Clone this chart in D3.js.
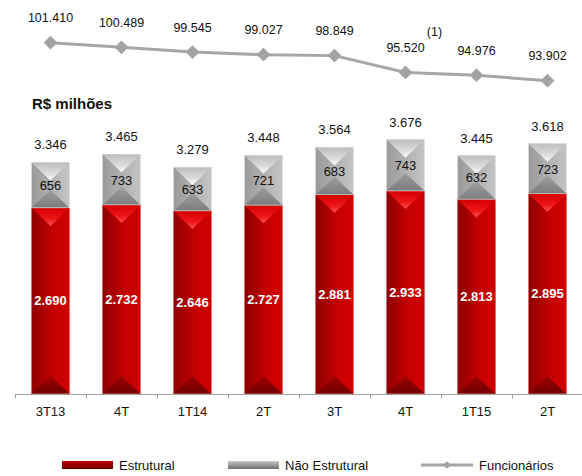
<!DOCTYPE html>
<html><head><meta charset="utf-8">
<script src="https://cdn.jsdelivr.net/npm/d3@7"></script>
<style>body{margin:0;background:#fff}svg{display:block;font-family:"Liberation Sans",Arial,sans-serif}</style>
</head><body>
<svg id="c" width="582" height="476"></svg>
<script>
const categories = ["3T13","4T","1T14","2T","3T","4T","1T15","2T"];
const estrutural = [2690,2732,2646,2727,2881,2933,2813,2895];
const naoEstrutural = [656,733,633,721,683,743,632,723];
const totals = [3346,3465,3279,3448,3564,3676,3445,3618];
const funcionarios = [101.410,100.489,99.545,99.027,98.849,95.520,94.976,93.902];
const funcLabels = ["101.410","100.489","99.545","99.027","98.849","95.520","94.976","93.902"];
const fmt = v => d3.format(",")(v).replace(/,/g,".");

const svg = d3.select("#c");
const x = d3.scaleBand().domain(d3.range(categories.length)).range([15,583]).paddingInner(0.465).paddingOuter(0.2325);
const y = d3.scaleLinear().domain([0,5000]).range([394,48]);
const yl = d3.scaleLinear().domain([90,105]).range([100.4,24.5]);

const defs = svg.append("defs");
function lg(id, x1,y1,x2,y2, stops){
  const g = defs.append("linearGradient").attr("id",id).attr("x1",x1).attr("y1",y1).attr("x2",x2).attr("y2",y2);
  stops.forEach(s=>g.append("stop").attr("offset",s[0]).attr("stop-color",s[1]));
}
lg("redSide",0,0,1,0,[[0,"#8e0000"],[0.45,"#b80000"],[0.55,"#c40000"],[1,"#d00000"]]);
lg("redTop",0,0,0,1,[[0,"#d40000"],[0.6,"#ee1515"],[1,"#ff5050"]]);
lg("redBot",0,1,0,0,[[0,"#6e0000"],[1,"#a00000"]]);
lg("graySide",0,0,1,0,[[0,"#9a9a9a"],[0.5,"#b0b0b0"],[1,"#c4c4c4"]]);
lg("grayTop",0,0,0,1,[[0,"#bcbcbc"],[0.6,"#dcdcdc"],[1,"#ffffff"]]);
lg("grayBot",0,1,0,0,[[0,"#7c7c7c"],[1,"#9e9e9e"]]);
lg("redLeg",0,0,0,1,[[0,"#c00000"],[1,"#6a0000"]]);
lg("grayLeg",0,0,0,1,[[0,"#c8c8c8"],[1,"#6e6e6e"]]);

function segment(g, x0, w, top, bottom, kind){
  const xc = x0 + w/2, h = bottom - top;
  const th = Math.min(w/2*0.95, h/2);
  g.append("rect").attr("x",x0).attr("y",top).attr("width",w).attr("height",h)
    .attr("fill",`url(#${kind}Side)`);
  g.append("polygon").attr("points",`${x0},${top} ${x0+w},${top} ${xc},${top+th}`)
    .attr("fill",`url(#${kind}Top)`);
  g.append("polygon").attr("points",`${x0},${bottom} ${x0+w},${bottom} ${xc},${bottom-th}`)
    .attr("fill",`url(#${kind}Bot)`);
  g.append("rect").attr("x",x0+0.25).attr("y",top+0.25).attr("width",w-0.5).attr("height",h-0.5)
    .attr("fill","none").attr("stroke", kind==="red" ? "#e06060" : "#dedede").attr("stroke-width",0.5);
}

const bars = svg.append("g");
categories.forEach((c,i)=>{
  const x0 = x(i), w = x.bandwidth();
  const g = bars.append("g");
  segment(g, x0, w, y(estrutural[i]), y(0), "red");
  segment(g, x0, w, y(estrutural[i]+naoEstrutural[i]), y(estrutural[i]), "gray");
  const xc = x0 + w/2;
  g.append("text").attr("x",xc).attr("y",(y(estrutural[i])+y(0))/2+4.5).attr("text-anchor","middle")
    .attr("font-size","13px").attr("font-weight","bold").attr("fill","#fff").text(fmt(estrutural[i]));
  g.append("text").attr("x",xc).attr("y",(y(estrutural[i]+naoEstrutural[i])+y(estrutural[i]))/2+5).attr("text-anchor","middle")
    .attr("font-size","13px").attr("fill","#111").text(naoEstrutural[i]);
  g.append("text").attr("x",xc).attr("y",y(totals[i])-13).attr("text-anchor","middle")
    .attr("font-size","13px").attr("fill","#111").text(fmt(totals[i]));
});

// axis
const axisG = svg.append("g");
axisG.append("line").attr("x1",x.range()[0]).attr("x2",x.range()[1]).attr("y1",394.5).attr("y2",394.5)
  .attr("stroke","#a0a0a0").attr("stroke-width",1);
const step = x.step();
d3.range(categories.length+1).forEach(k=>{
  const tx = Math.round(x.range()[0] + k*step)+0.5;
  axisG.append("line").attr("x1",tx).attr("x2",tx).attr("y1",394.5).attr("y2",398.5).attr("stroke","#a0a0a0");
});
categories.forEach((c,i)=>{
  axisG.append("text").attr("x",x(i)+x.bandwidth()/2).attr("y",415.5).attr("text-anchor","middle")
    .attr("font-size","13px").attr("fill","#111").text(c);
});

// line
const line = d3.line().x((d,i)=>x(i)+x.bandwidth()/2).y(d=>yl(d));
svg.append("path").datum(funcionarios).attr("d",line).attr("fill","none").attr("stroke","#a6a6a6").attr("stroke-width",3);
funcionarios.forEach((v,i)=>{
  const cx = x(i)+x.bandwidth()/2, cy = yl(v);
  svg.append("path").attr("d",d3.symbol().type(d3.symbolSquare).size(95)()).attr("transform",`translate(${cx},${cy}) rotate(45)`)
    .attr("fill","#a3a3a3");
  svg.append("text").attr("x",cx).attr("y",cy-20.5).attr("text-anchor","middle").attr("font-size","12.5px")
    .attr("fill","#111").text(funcLabels[i]);
});
svg.append("text").attr("x",x(5)+x.bandwidth()/2+29).attr("y",36).attr("text-anchor","middle")
  .attr("font-size","12.5px").attr("fill","#111").text("(1)");

// title
svg.append("text").attr("x",32).attr("y",108.5).attr("font-size","15px").attr("font-weight","bold")
  .attr("fill","#111").text("R$ milhões");

// legend
const leg = svg.append("g");
leg.append("rect").attr("x",62).attr("y",461).attr("width",51).attr("height",8).attr("fill","url(#redLeg)");
leg.append("text").attr("x",119).attr("y",469.5).attr("font-size","13px").attr("fill","#111").text("Estrutural");
leg.append("rect").attr("x",228).attr("y",461).attr("width",51).attr("height",8).attr("fill","url(#grayLeg)");
leg.append("text").attr("x",285).attr("y",469.5).attr("font-size","13px").attr("fill","#111").text("Não Estrutural");
leg.append("line").attr("x1",421).attr("x2",473).attr("y1",465).attr("y2",465).attr("stroke","#a6a6a6").attr("stroke-width",3);
leg.append("path").attr("d",d3.symbol().type(d3.symbolSquare).size(30)()).attr("transform","translate(447,465) rotate(45)").attr("fill","#a3a3a3");
leg.append("text").attr("x",479).attr("y",469.5).attr("font-size","13px").attr("fill","#111").text("Funcionários");
</script>
</body></html>
